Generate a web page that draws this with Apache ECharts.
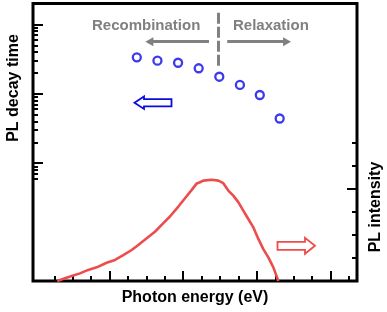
<!DOCTYPE html>
<html>
<head>
<meta charset="utf-8">
<script src="https://cdn.jsdelivr.net/npm/echarts@6/dist/echarts.min.js"></script>
<style>
html, body { margin: 0; padding: 0; background: #fff; }
#chart { width: 387px; height: 312px; }
</style>
</head>
<body>
<div id="chart"></div>
<script>
// PL decay time (blue open circles), energy in eV
const decayEnergy = [1.685, 1.825, 1.965, 2.105, 2.245, 2.385, 2.52, 2.655]
const decayTime = [335, 300, 280, 233, 176, 134, 96, 44]

// PL spectrum (red curve)
const plEnergy = [1.145, 1.197, 1.243, 1.299, 1.355, 1.413, 1.48, 1.537, 1.593, 1.65,
	1.695, 1.752, 1.808, 1.865, 1.91, 1.967, 2.012, 2.058, 2.092, 2.114, 2.136, 2.193,
	2.238, 2.272, 2.306, 2.34, 2.374, 2.408, 2.442, 2.476, 2.51, 2.544, 2.578, 2.612, 2.646]
const plIntensity = [0, 0.12, 0.22, 0.33, 0.48, 0.59, 0.79, 0.91, 1.12, 1.34,
	1.56, 1.85, 2.13, 2.5, 2.79, 3.22, 3.58, 3.94, 4.22, 4.27, 4.34, 4.38,
	4.34, 4.23, 3.91, 3.69, 3.41, 3.04, 2.68, 2.32, 1.82, 1.38, 1.02, 0.59, 0]

// tick values (no labels in the figure)
const xMajorTicks = [1.5, 2, 2.5, 3]
const xMinorTicks = [1.125, 1.25, 1.375, 1.625, 1.75, 1.875, 2.125, 2.25, 2.375, 2.625, 2.75, 2.875, 3.125]
const tauMajorTicks = [10, 100, 1000]
const tauMinorTicks = [6, 7, 8, 9, 20, 30, 40, 50, 60, 70, 80, 90, 200, 300, 400, 500, 600, 700, 800, 900]
const intMajorTicks = [4]
const intMinorTicks = [1, 2, 3, 5, 6]

const FONT = "Arial, 'Liberation Sans', sans-serif"
const GRAY = '#808080'
const BLUE = '#0a0ae6'
const RED = '#ee4c4c'

// axis that only draws inward ticks at the given values
function tickAxis(type, position, min, max, ticks, len) {
	return {
		type,
		position,
		min,
		max,
		axisLine: { show: false, onZero: false },
		axisLabel: { show: false },
		splitLine: { show: false },
		axisTick: {
			show: true,
			inside: true,
			length: len,
			customValues: ticks,
			lineStyle: { color: '#000', width: 2 },
		},
	}
}

const chart = echarts.init(document.getElementById('chart'))

const xMain = tickAxis('value', 'bottom', 0.98, 3.18, xMajorTicks, 10)
xMain.name = 'Photon energy (eV)'
xMain.nameLocation = 'middle'
xMain.nameGap = 9
xMain.nameTextStyle = { fontFamily: FONT, fontWeight: 'bold', fontSize: 16, color: '#000' }

chart.setOption({
	animation: false,
	grid: {
		left: 33,
		top: 3.5,
		right: 30,
		bottom: 31,
		show: true,
		borderColor: '#000',
		borderWidth: 3,
		containLabel: false,
	},
	xAxis: [xMain, tickAxis('value', 'bottom', 0.98, 3.18, xMinorTicks, 5)],
	yAxis: [
		tickAxis('log', 'left', 0.2, 2000, tauMajorTicks, 10),
		tickAxis('log', 'left', 0.2, 2000, tauMinorTicks, 5),
		tickAxis('value', 'right', 0, 12, intMajorTicks, 10),
		tickAxis('value', 'right', 0, 12, intMinorTicks, 5),
	],
	series: [
		{
			type: 'line',
			name: 'PL intensity',
			xAxisIndex: 0,
			yAxisIndex: 2,
			data: plEnergy.map((e, i) => [e, plIntensity[i]]),
			symbol: 'none',
			lineStyle: { color: RED, width: 2.6 },
			z: 2,
		},
		{
			type: 'scatter',
			name: 'PL decay time',
			xAxisIndex: 0,
			yAxisIndex: 0,
			data: decayEnergy.map((e, i) => [e, decayTime[i]]),
			symbol: 'circle',
			symbolSize: 8,
			itemStyle: { color: '#fff', borderColor: BLUE, borderWidth: 2.3 },
			z: 3,
			markLine: {
				silent: true,
				animation: false,
				label: { show: false },
				symbol: ['none', 'triangle'],
				symbolSize: [9, 8],
				lineStyle: { color: GRAY, width: 3, type: 'solid' },
				data: [
					// boundary between the two regimes
					[
						{ coord: [2.238, 1470], symbol: 'none', lineStyle: { type: [11, 3] } },
						{ coord: [2.238, 245], symbol: 'none' },
					],
					[{ coord: [2.175, 563] }, { coord: [1.77, 563] }],
					[{ coord: [2.299, 563] }, { coord: [2.705, 563] }],
				],
			},
		},
	],
	graphic: [
		{
			type: 'text',
			x: 13.5,
			y: 88,
			rotation: Math.PI / 2,
			style: {
				text: 'PL decay time',
				font: 'bold 16px ' + FONT,
				fill: '#000',
				align: 'center',
				verticalAlign: 'middle',
			},
		},
		{
			type: 'text',
			x: 376,
			y: 207,
			rotation: Math.PI / 2,
			style: {
				text: 'PL intensity',
				font: 'bold 16px ' + FONT,
				fill: '#000',
				align: 'center',
				verticalAlign: 'middle',
			},
		},
		{
			type: 'text',
			x: 92,
			y: 26,
			style: {
				text: 'Recombination',
				font: 'bold 15px ' + FONT,
				fill: GRAY,
				align: 'left',
				verticalAlign: 'middle',
			},
		},
		{
			type: 'text',
			x: 233,
			y: 26,
			style: {
				text: 'Relaxation',
				font: 'bold 15px ' + FONT,
				fill: GRAY,
				align: 'left',
				verticalAlign: 'middle',
			},
		},
		// hollow arrow: decay time -> left axis
		{
			type: 'polygon',
			shape: {
				points: [[134.5, 102.7], [144, 96.5], [144, 99.1], [171.5, 99.1], [171.5, 106.3], [144, 106.3], [144, 108.9]],
			},
			style: { fill: '#fff', stroke: BLUE, lineWidth: 1.8 },
		},
		// hollow arrow: intensity -> right axis
		{
			type: 'polygon',
			shape: {
				points: [[277.5, 241.8], [305, 241.8], [305, 237.8], [315, 245.8], [305, 253.8], [305, 249.8], [277.5, 249.8]],
			},
			style: { fill: '#fff', stroke: RED, lineWidth: 1.8 },
		},
	],
})
</script>
</body>
</html>
